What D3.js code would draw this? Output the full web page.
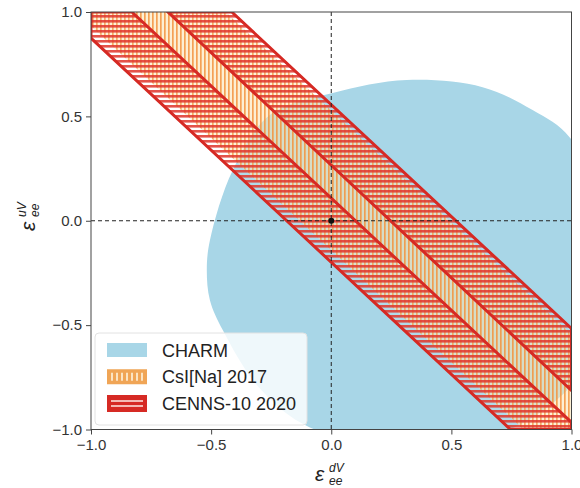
<!DOCTYPE html>
<html>
<head>
<meta charset="utf-8">
<script src="https://cdn.jsdelivr.net/npm/d3@7"></script>
<style>
  body { margin: 0; background: #fff; }
  text { font-family: "Liberation Sans", Arial, sans-serif; }
</style>
</head>
<body>
<svg id="chart" width="580" height="488"></svg>
<script>
// ---- data -------------------------------------------------------------
const xTicks = [-1, -0.5, 0, 0.5, 1];
const yTicks = [-1, -0.5, 0, 0.5, 1];

// CHARM allowed region, boundary points (eps_dV, eps_uV)
const charmBoundary = [
  [-0.518, -0.237], [-0.505, -0.094], [-0.410, 0.242], [-0.256, 0.506],
  [0.006, 0.612], [0.314, 0.674], [0.630, 0.640], [0.838, 0.530],
  [0.992, 0.400], [1.100, 0.100], [1.140, -0.300], [1.080, -0.620],
  [1.000, -0.789], [0.742, -1.000], [0.330, -1.080], [-0.089, -0.990],
  [-0.300, -0.800], [-0.451, -0.525], [-0.505, -0.381]
];

// CsI[Na] 2017 allowed band: lower and upper edge lines
const csiLower = [[-1.0, 0.933], [0.800, -1.0]];
const csiUpper = [[-0.440, 1.0], [1.0, -0.545]];

// CENNS-10 2020 allowed bands: [lower edge, upper edge] for each band
const cennsBands = [
  [[[-1.0, 0.875], [0.746, -1.0]], [[-0.830, 1.0], [1.0, -0.966]]],
  [[[-0.680, 1.0], [1.0, -0.813]], [[-0.414, 1.0], [1.0, -0.516]]]
];

const legendLabels = ["CHARM", "CsI[Na] 2017", "CENNS-10 2020"];

// ---- layout -----------------------------------------------------------
const svg = d3.select("#chart");
const x = d3.scaleLinear().domain([-1, 1]).range([91, 571.5]);
const y = d3.scaleLinear().domain([-1, 1]).range([429.5, 12]);

const red = "#d62a24";
const blue = "#a8d6e7";

const defs = svg.append("defs");
defs.append("clipPath").attr("id", "plot-clip")
  .append("rect")
  .attr("x", x(-1)).attr("y", y(1))
  .attr("width", x(1) - x(-1)).attr("height", y(-1) - y(1));

// vertical hatch for the CsI band
const pv = defs.append("pattern").attr("id", "hatch-csi")
  .attr("patternUnits", "userSpaceOnUse").attr("width", 4).attr("height", 4);
pv.append("rect").attr("width", 4).attr("height", 4)
  .attr("fill", "#fbe2ae").attr("fill-opacity", 0.55);
pv.append("rect").attr("x", 0).attr("width", 1.7).attr("height", 4)
  .attr("fill", "#f29440").attr("fill-opacity", 0.85);

// horizontal hatch for the CENNS-10 bands
const ph = defs.append("pattern").attr("id", "hatch-cenns")
  .attr("patternUnits", "userSpaceOnUse").attr("width", 5).attr("height", 5);
ph.append("rect").attr("width", 5).attr("height", 5)
  .attr("fill", "#ffffff").attr("fill-opacity", 0.1);
ph.append("rect").attr("y", 0).attr("width", 5).attr("height", 2.6)
  .attr("fill", "#e0352b").attr("fill-opacity", 0.85);

// legend swatch hatch for CsI
const pl = defs.append("pattern").attr("id", "hatch-csi-legend")
  .attr("patternUnits", "userSpaceOnUse").attr("width", 5).attr("height", 5);
pl.append("rect").attr("width", 5).attr("height", 5).attr("fill", "#f0a556");
pl.append("rect").attr("x", 1).attr("width", 2).attr("height", 5).attr("fill", "#fbe4c4");

// ---- helpers ----------------------------------------------------------
// Sutherland–Hodgman: keep the side of line p1-p2 that contains ref
function clipByLine(poly, p1, p2, ref) {
  const f = q => (p2[0] - p1[0]) * (q[1] - p1[1]) - (p2[1] - p1[1]) * (q[0] - p1[0]);
  const s = Math.sign(f(ref));
  const out = [];
  for (let i = 0; i < poly.length; i++) {
    const c = poly[i], n = poly[(i + 1) % poly.length];
    const fc = f(c) * s, fn = f(n) * s;
    if (fc >= 0) out.push(c);
    if ((fc >= 0) !== (fn >= 0)) {
      const t = fc / (fc - fn);
      out.push([c[0] + t * (n[0] - c[0]), c[1] + t * (n[1] - c[1])]);
    }
  }
  return out;
}
function bandPolygon(lo, hi) {
  let poly = [[-1, -1], [1, -1], [1, 1], [-1, 1]];
  poly = clipByLine(poly, lo[0], lo[1], hi[0]);
  poly = clipByLine(poly, hi[0], hi[1], lo[0]);
  return poly;
}
const toPx = p => [x(p[0]), y(p[1])];
const lineClosed = d3.line().curve(d3.curveLinearClosed);

// ---- plot -------------------------------------------------------------
const plot = svg.append("g").attr("clip-path", "url(#plot-clip)");

plot.append("path")
  .attr("d", d3.line().curve(d3.curveCatmullRomClosed.alpha(0.5))(charmBoundary.map(toPx)))
  .attr("fill", blue);

plot.append("path")
  .attr("d", lineClosed(bandPolygon(csiLower, csiUpper).map(toPx)))
  .attr("fill", "url(#hatch-csi)");

plot.selectAll("path.cenns")
  .data(cennsBands)
  .join("path")
  .attr("class", "cenns")
  .attr("d", b => lineClosed(bandPolygon(b[0], b[1]).map(toPx)))
  .attr("fill", "url(#hatch-cenns)")
  .attr("stroke", red)
  .attr("stroke-width", 3)
  .attr("stroke-linejoin", "miter");

// zero reference lines and origin
plot.append("line")
  .attr("x1", x(0)).attr("x2", x(0)).attr("y1", y(1)).attr("y2", y(-1))
  .attr("stroke", "#222").attr("stroke-width", 1).attr("stroke-dasharray", "4,3");
plot.append("line")
  .attr("x1", x(-1)).attr("x2", x(1)).attr("y1", y(0)).attr("y2", y(0))
  .attr("stroke", "#222").attr("stroke-width", 1).attr("stroke-dasharray", "4,3");
plot.append("circle").attr("cx", x(0)).attr("cy", y(0)).attr("r", 3).attr("fill", "#111");

// ---- axes -------------------------------------------------------------
const fmt = d3.format(".1f");
const xAxis = svg.append("g").attr("transform", `translate(0,${y(-1)})`)
  .call(d3.axisBottom(x).tickValues(xTicks).tickFormat(fmt).tickSize(5).tickPadding(5).tickSizeOuter(0));
const yAxis = svg.append("g").attr("transform", `translate(${x(-1)},0)`)
  .call(d3.axisLeft(y).tickValues(yTicks).tickFormat(fmt).tickSize(5).tickPadding(4).tickSizeOuter(0));
[xAxis, yAxis].forEach(a => {
  a.select(".domain").remove();
  a.selectAll(".tick line").attr("stroke", "#444");
  a.selectAll(".tick text").attr("fill", "#333").attr("font-size", 15)
    .attr("font-family", "Liberation Sans, Arial, sans-serif");
});

// frame
svg.append("rect")
  .attr("x", x(-1)).attr("y", y(1))
  .attr("width", x(1) - x(-1)).attr("height", y(-1) - y(1))
  .attr("fill", "none").attr("stroke", "#444").attr("stroke-width", 1);

// axis labels (eps with super/subscripts)
function epsLabel(g, sup) {
  const font = "DejaVu Sans, sans-serif";
  g.append("text").attr("x", -15).attr("y", 7).attr("font-size", 21)
    .attr("font-style", "italic").attr("font-family", font).attr("fill", "#222").text("ε");
  g.append("text").attr("x", -1).attr("y", -2).attr("font-size", 12)
    .attr("font-style", "italic").attr("font-family", font).attr("fill", "#222").text(sup);
  g.append("text").attr("x", -1).attr("y", 11).attr("font-size", 12)
    .attr("font-style", "italic").attr("font-family", font).attr("fill", "#222").text("ee");
}
epsLabel(svg.append("g").attr("transform", "translate(330,474)"), "dV");
epsLabel(svg.append("g").attr("transform", "translate(28,216) rotate(-90)"), "uV");

// ---- legend -----------------------------------------------------------
const lg = svg.append("g");
lg.append("rect")
  .attr("x", 95).attr("y", 333).attr("width", 212).attr("height", 92).attr("rx", 4)
  .attr("fill", "#fff").attr("fill-opacity", 0.82)
  .attr("stroke", "#e2e2e2").attr("stroke-width", 1);

const rowY = d3.scalePoint().domain(legendLabels).range([350, 403.5]);

lg.append("rect").attr("x", 107).attr("y", rowY(legendLabels[0]) - 7)
  .attr("width", 40).attr("height", 14).attr("fill", blue);

lg.append("rect").attr("x", 107).attr("y", rowY(legendLabels[1]) - 7.5)
  .attr("width", 40).attr("height", 15).attr("fill", "#f0a556");
lg.append("rect").attr("x", 111).attr("y", rowY(legendLabels[1]) - 4)
  .attr("width", 32).attr("height", 8).attr("fill", "url(#hatch-csi-legend)");

const cy3 = rowY(legendLabels[2]);
lg.append("rect").attr("x", 108.5).attr("y", cy3 - 7)
  .attr("width", 37).attr("height", 14).attr("fill", red)
  .attr("stroke", red).attr("stroke-width", 3);
[-2.5, 2.5].forEach(o => {
  lg.append("line").attr("x1", 111).attr("x2", 143)
    .attr("y1", cy3 + o).attr("y2", cy3 + o)
    .attr("stroke", "#fbe0da").attr("stroke-width", 1.6);
});

lg.selectAll("text.lbl")
  .data(legendLabels)
  .join("text")
  .attr("class", "lbl")
  .attr("x", 162)
  .attr("y", d => rowY(d) + 6.5)
  .attr("font-size", 18)
  .attr("fill", "#222")
  .text(d => d);
</script>
</body>
</html>
